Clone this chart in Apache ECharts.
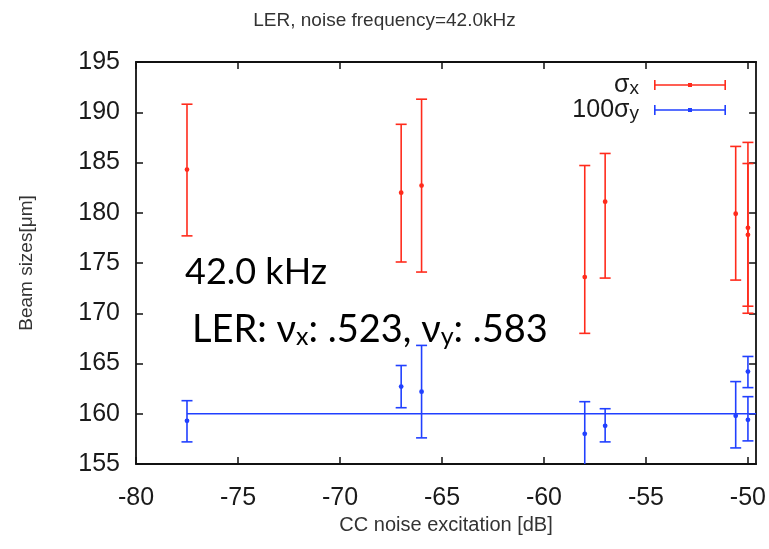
<!DOCTYPE html>
<html>
<head>
<meta charset="utf-8">
<script src="https://cdn.jsdelivr.net/npm/echarts@6/dist/echarts.min.js"></script>
<style>
  html, body { margin: 0; padding: 0; background: #fff; }
  #chart { width: 769px; height: 549px; }
</style>
</head>
<body>
<div id="chart"></div>
<script>
// Beam size vs. crab-cavity noise excitation (LER, 42.0 kHz)
const xTicks = [-80, -75, -70, -65, -60, -55, -50];
const yTicks = [155, 160, 165, 170, 175, 180, 185, 190, 195];

// horizontal beam size sigma_x [um]: mean, lower and upper error limits
const sxExcitation = [-77.5, -67.0, -66.0, -58.0, -57.0, -50.6, -50.0, -50.0];
const sxValue      = [184.3, 182.0, 182.7, 173.6, 181.1, 179.9, 178.5, 177.8];
const sxLow        = [177.7, 175.1, 174.1, 168.0, 173.5, 173.3, 170.0, 170.7];
const sxHigh       = [190.8, 188.8, 191.3, 184.7, 185.9, 186.6, 187.0, 184.9];

// vertical beam size x100 [um]: mean, lower and upper error limits
const syExcitation = [-77.5, -67.0, -66.0, -58.0, -57.0, -50.6, -50.0, -50.0];
const syValue      = [159.3, 162.7, 162.2, 158.0, 158.8, 159.8, 164.2, 159.4];
const syLow        = [157.2, 160.6, 157.6, 154.8, 157.2, 156.6, 162.6, 157.3];
const syHigh       = [161.3, 164.8, 166.8, 161.2, 160.5, 163.2, 165.7, 161.7];

// reference level of 100*sigma_y
const refLevel = 160;
const refSpan = [-77.5, -49.6];

const X_MIN = -80, X_MAX = -49.6, Y_MIN = 155, Y_MAX = 195;
const RED = '#ff2b1c';
const BLUE = '#2140ff';
const SANS = '"Liberation Sans", Arial, sans-serif';
const NOTE = 'Lato, "Liberation Sans", sans-serif';

function rows(x, v, lo, hi) { return x.map((xi, i) => [xi, v[i], lo[i], hi[i]]); }

function errorBars(color) {
  return function (params, api) {
    const x = api.value(0), y = api.value(1), l = api.value(2), h = api.value(3);
    const hiV = Math.min(h, Y_MAX), loV = Math.max(l, Y_MIN);
    const p = api.coord([x, y]);
    const hi = api.coord([x, hiV]);
    const lo = api.coord([x, loV]);
    const half = 5.5;
    const st = { stroke: color, lineWidth: 1.6 };
    const kids = [
      { type: 'line', shape: { x1: p[0], y1: hi[1], x2: p[0], y2: lo[1] }, style: st }
    ];
    if (h <= Y_MAX) kids.push({ type: 'line', shape: { x1: p[0] - half, y1: hi[1], x2: p[0] + half, y2: hi[1] }, style: st });
    if (l >= Y_MIN) kids.push({ type: 'line', shape: { x1: p[0] - half, y1: lo[1], x2: p[0] + half, y2: lo[1] }, style: st });
    kids.push({ type: 'circle', shape: { cx: p[0], cy: p[1], r: 2.4 }, style: { fill: color } });
    return { type: 'group', children: kids };
  };
}

const legendIcon = 'path://M0,0H1.6V10H0Z M0,4.2H72V5.8H0Z M70.4,0H72V10H70.4Z M34,3H38V7H34Z';
const tickFont = { fontFamily: SANS, fontSize: 25, color: '#1a1a1a' };

const chart = echarts.init(document.getElementById('chart'), null, { renderer: 'canvas' });
chart.setOption({
  animation: false,
  backgroundColor: '#fff',
  title: {
    text: 'LER, noise frequency=42.0kHz',
    left: 'center',
    top: 6,
    textStyle: { fontFamily: SANS, fontSize: 19, fontWeight: 'normal', color: '#333' }
  },
  grid: { left: 136, right: 12, top: 62, bottom: 85 },
  legend: {
    orient: 'vertical',
    right: 38,
    top: 68,
    align: 'right',
    itemWidth: 72,
    itemHeight: 10,
    itemGap: 0,
    selectedMode: false,
    data: [
      { name: 'σx', icon: legendIcon },
      { name: '100σy', icon: legendIcon }
    ],
    formatter: function (name) {
      return name === 'σx' ? '{m|σ}{s|x}' : '{m|100σ}{s|y}';
    },
    textStyle: {
      padding: [0, 10, 0, 0],
      rich: {
        m: { fontFamily: SANS, fontSize: 25, color: '#1a1a1a', lineHeight: 26, verticalAlign: 'bottom' },
        s: { fontFamily: SANS, fontSize: 19, color: '#1a1a1a', lineHeight: 12, verticalAlign: 'bottom' }
      }
    }
  },
  xAxis: [
    {
      type: 'value', min: X_MIN, max: X_MAX, position: 'bottom',
      name: 'CC noise excitation [dB]', nameLocation: 'middle', nameGap: 49,
      nameTextStyle: { fontFamily: SANS, fontSize: 20, color: '#333' },
      axisLine: { lineStyle: { color: '#111', width: 1.8 } },
      axisTick: { inside: true, length: 7, lineStyle: { color: '#111', width: 1.5 }, customValues: xTicks },
      axisLabel: Object.assign({ margin: 22, customValues: xTicks }, tickFont),
      splitLine: { show: false }
    },
    {
      type: 'value', min: X_MIN, max: X_MAX, position: 'top',
      axisLine: { lineStyle: { color: '#111', width: 1.8 } },
      axisTick: { inside: true, length: 7, lineStyle: { color: '#111', width: 1.5 }, customValues: xTicks },
      axisLabel: { show: false },
      splitLine: { show: false }
    }
  ],
  yAxis: [
    {
      type: 'value', min: Y_MIN, max: Y_MAX, interval: 5, position: 'left',
      name: 'Beam sizes[μm]', nameLocation: 'middle', nameGap: 100,
      nameTextStyle: { fontFamily: SANS, fontSize: 19, color: '#333' },
      axisLine: { show: true, lineStyle: { color: '#111', width: 1.8 } },
      axisTick: { show: true, inside: true, length: 7, lineStyle: { color: '#111', width: 1.5 }, customValues: yTicks },
      axisLabel: Object.assign({ margin: 16, customValues: yTicks }, tickFont),
      splitLine: { show: false }
    },
    {
      type: 'value', min: Y_MIN, max: Y_MAX, interval: 5, position: 'right',
      axisLine: { show: true, lineStyle: { color: '#111', width: 1.8 } },
      axisTick: { show: true, inside: true, length: 7, lineStyle: { color: '#111', width: 1.5 }, customValues: yTicks },
      axisLabel: { show: false },
      splitLine: { show: false }
    }
  ],
  series: [
    {
      name: 'σx', type: 'custom', xAxisIndex: 0, yAxisIndex: 0,
      itemStyle: { color: RED },
      renderItem: errorBars(RED),
      encode: { x: 0, y: [1, 2, 3] },
      data: rows(sxExcitation, sxValue, sxLow, sxHigh),
      z: 3
    },
    {
      name: '100σy', type: 'custom', xAxisIndex: 0, yAxisIndex: 0,
      itemStyle: { color: BLUE },
      renderItem: errorBars(BLUE),
      encode: { x: 0, y: [1, 2, 3] },
      data: rows(syExcitation, syValue, syLow, syHigh),
      z: 3
    },
    {
      name: 'ref', type: 'line', xAxisIndex: 0, yAxisIndex: 0,
      showSymbol: false, symbol: 'none',
      lineStyle: { color: BLUE, width: 1.6 },
      data: refSpan.map(x => [x, refLevel]),
      z: 2
    }
  ],
  graphic: [
    {
      type: 'text', left: 185, top: 254,
      style: { text: '42.0 kHz', font: '36px ' + NOTE, fill: '#000' }
    },
    {
      type: 'text', left: 192, top: 311,
      style: {
        text: '{a|LER: ν}{b|x}{a|: .523, ν}{b|y}{a|: .583}',
        rich: {
          a: { fontFamily: NOTE, fontSize: 38, fill: '#000', lineHeight: 40, verticalAlign: 'bottom' },
          b: { fontFamily: NOTE, fontSize: 25, fill: '#000', lineHeight: 24, verticalAlign: 'bottom' }
        }
      }
    }
  ]
});
</script>
</body>
</html>
